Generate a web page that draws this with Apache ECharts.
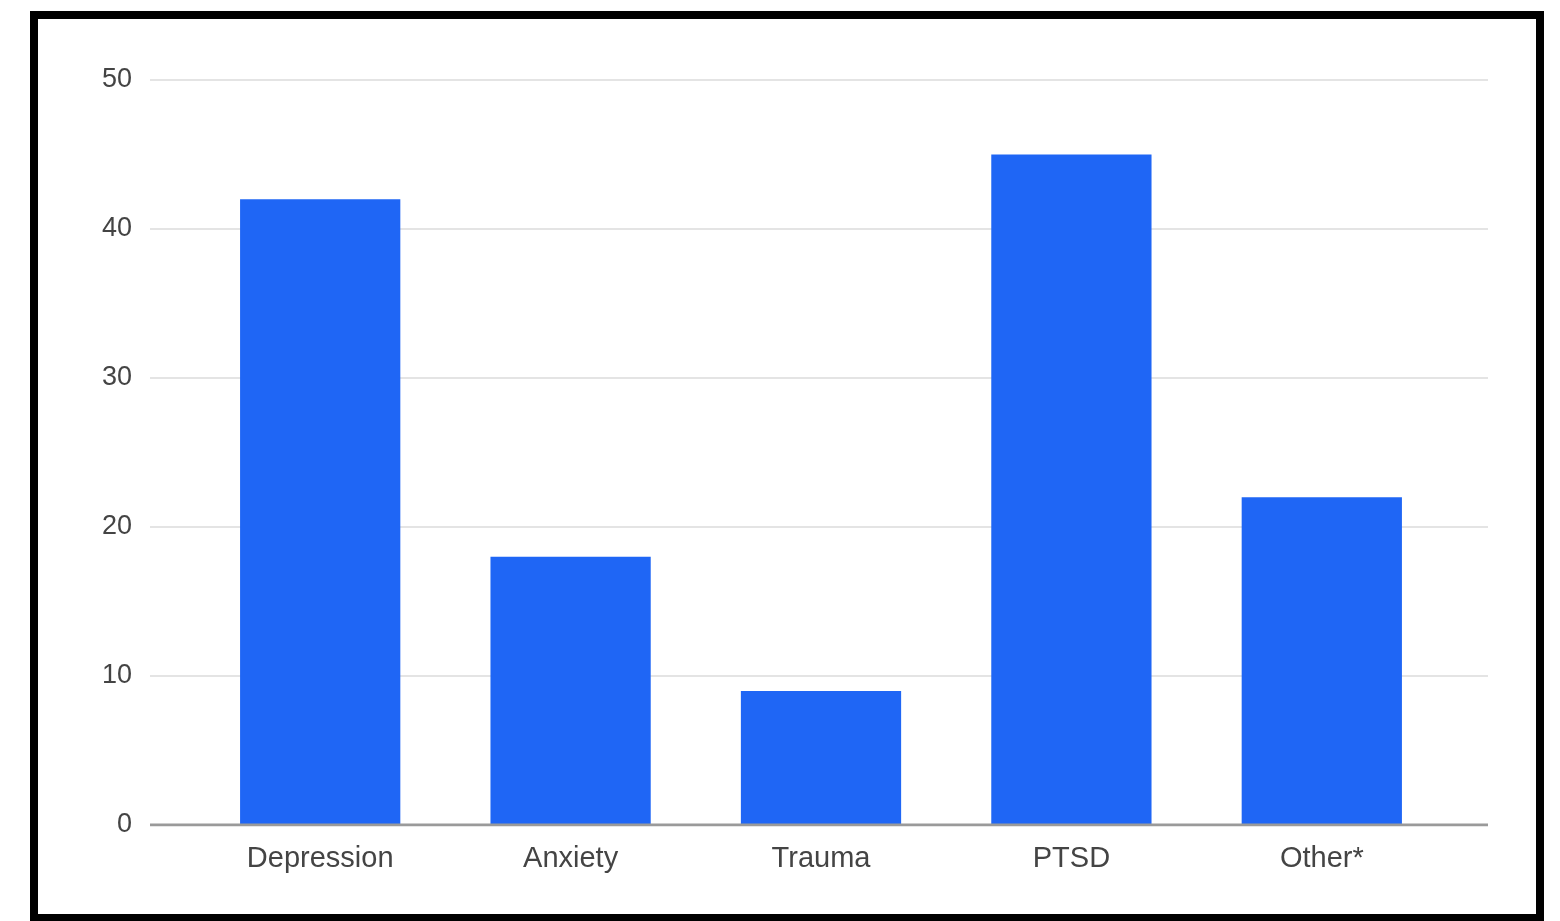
<!DOCTYPE html>
<html>
<head>
<meta charset="utf-8">
<script src="https://cdn.jsdelivr.net/npm/echarts@6/dist/echarts.min.js"></script>
<style>
html,body{margin:0;padding:0;background:#fff;}
#chart{width:1560px;height:921px;}
</style>
</head>
<body>
<div id="chart"></div>
<script>
const categories = ['Depression', 'Anxiety', 'Trauma', 'PTSD', 'Other*'];
const values = [42, 18, 9, 45, 22];
const yTicks = [0, 10, 20, 30, 40, 50];

const chart = echarts.init(document.getElementById('chart'));
const textColor = '#444';
const font = '"Liberation Sans", Arial, sans-serif';
chart.setOption({
  backgroundColor: '#fff',
  animation: false,
  grid: [
    {left: 150, right: 72, top: 80, bottom: 96},
    {left: 195, right: 113, top: 80, bottom: 96}
  ],
  xAxis: [
    {gridIndex: 0, type: 'value', min: 0, max: 1, show: false},
    {gridIndex: 1, type: 'category', data: categories,
     axisLine: {show: false}, axisTick: {show: false},
     axisLabel: {color: textColor, fontSize: 29, fontFamily: font, margin: 19}}
  ],
  yAxis: [
    {gridIndex: 0, type: 'value', min: yTicks[0], max: yTicks[yTicks.length-1], interval: 10,
     axisLine: {show: false}, axisTick: {show: false},
     axisLabel: {color: textColor, fontSize: 27, fontFamily: font, margin: 18},
     splitLine: {lineStyle: {color: '#e4e4e4', width: 2}}},
    {gridIndex: 1, type: 'value', min: yTicks[0], max: yTicks[yTicks.length-1], interval: 10, show: false}
  ],
  series: [
    {type: 'line', xAxisIndex: 0, yAxisIndex: 0, data: [[0, 0], [1, 0]],
     symbol: 'none', lineStyle: {color: '#9a9a9a', width: 3}, z: 5, silent: true},
    {type: 'bar', xAxisIndex: 1, yAxisIndex: 1, data: values, barWidth: '64%',
     itemStyle: {color: '#1f66f5'}, z: 3}
  ],
  graphic: [
    {type: 'rect', shape: {x: 34, y: 15, width: 1506, height: 903},
     style: {fill: 'none', stroke: '#000', lineWidth: 8}, z: 100}
  ]
});
</script>
</body>
</html>
